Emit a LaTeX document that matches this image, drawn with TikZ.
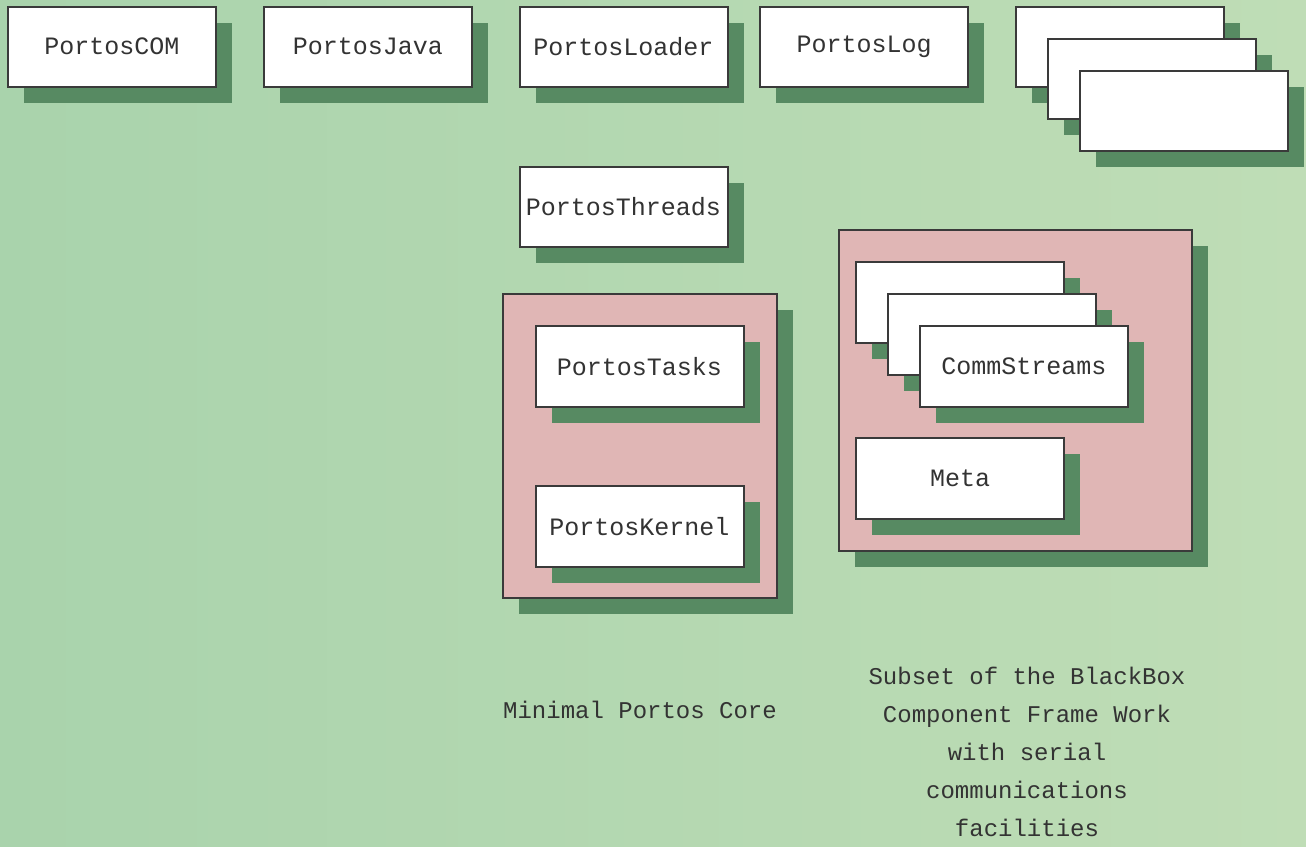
\documentclass[tikz,border=0pt]{standalone}
\usepackage{fontspec}
\setmainfont{Liberation Mono}
\usetikzlibrary{shadows}
\definecolor{bgA}{HTML}{A9D3AC}
\definecolor{bgB}{HTML}{BFDDB6}
\definecolor{shgreen}{HTML}{578A62}
\definecolor{pinkfill}{HTML}{E0B6B5}
\definecolor{edge}{HTML}{3A3A3A}
\definecolor{txt}{HTML}{333333}
\begin{document}
\begin{tikzpicture}[x=1pt,y=-1pt,
  shadowed/.style={drop shadow={shadow xshift=16pt, shadow yshift=-16pt, fill=shgreen, opacity=1}},
  box/.style={shadowed, draw=edge, line width=2pt, fill=white, minimum width=208pt, minimum height=80pt, inner sep=0pt, font=\fontsize{25}{30}\selectfont, text=txt},
  container/.style={shadowed, draw=edge, line width=2pt, fill=pinkfill, inner sep=0pt},
  caption/.style={font=\fontsize{24}{38}\selectfont, text=txt, align=center}]
\shade[left color=bgA, right color=bgB] (0,0) rectangle (1306,846);
\useasboundingbox (0,0) rectangle (1306,846);
% top row
\node[box] (com) at (112,46.5) {PortosCOM};
\node[box] (java) at (368,46.5) {PortosJava};
\node[box] (loader) at (623.5,47) {PortosLoader};
\node[box] (log) at (864,47) {PortosLog};
\node[box] (ta) at (1120,47) {};
\node[box] (tb) at (1152,79) {};
\node[box] (tc) at (1184,111) {};
\node[box] (threads) at (623.5,207) {PortosThreads};
% minimal core
\node[container, minimum width=274pt, minimum height=304pt] (core) at (640,446) {};
\node[box, minimum height=81pt] (tasks) at (639.5,366.5) {PortosTasks};
\node[box, minimum height=81pt] (kernel) at (639.5,526.5) {PortosKernel};
% blackbox subset
\node[container, minimum width=353pt, minimum height=321pt] (bb) at (1015.5,390.5) {};
\node[box, minimum height=81pt] (sa) at (960,302.5) {};
\node[box, minimum height=81pt] (sb) at (992,334.5) {};
\node[box, minimum height=81pt] (comm) at (1024,366.5) {CommStreams};
\node[box, minimum height=81pt] (meta) at (960,478.5) {Meta};
% captions
\node[caption] (corecap) at (640,710) {Minimal Portos Core};
\node[caption, anchor=north] (bbcap) at (1027,664) {Subset of the BlackBox\\Component Frame Work\\with serial\\communications\\facilities};
\end{tikzpicture}
\end{document}
